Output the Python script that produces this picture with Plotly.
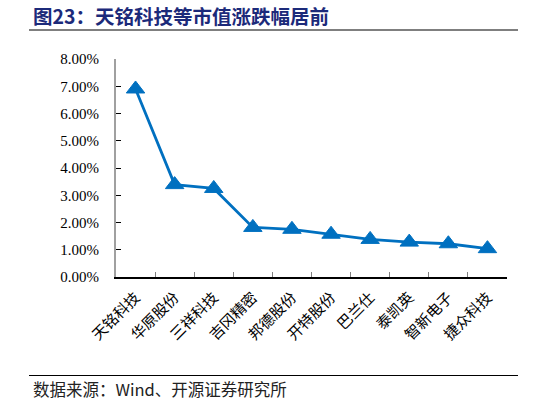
import plotly.graph_objects as go

# Chart data
companies = [
    "天铭科技", "华原股份", "三祥科技", "吉冈精密", "邦德股份",
    "开特股份", "巴兰仕", "泰凯英", "智新电子", "捷众科技",
]
change_pct = [6.90, 3.39, 3.25, 1.82, 1.75, 1.57, 1.38, 1.28, 1.22, 1.04]
y_ticks = [0, 1, 2, 3, 4, 5, 6, 7, 8]

TITLE = "图23：天铭科技等市值涨跌幅居前"
SOURCE = "数据来源：Wind、开源证券研究所"

BLUE = "#0070C0"
NAVY = "#1C2A7A"
CJK = "Noto Sans CJK SC"
SERIF = "Liberation Serif, Times New Roman, serif"

# Plot area in window pixels (546 x 405 page)
W, H = 546, 405
X0, X1, Y0, Y1 = 116, 507, 59, 277


def px_x(x):
    # pixel -> paper x
    return (x - X0) / (X1 - X0)


def px_y(y):
    # pixel -> paper y
    return (Y1 - y) / (Y1 - Y0)


fig = go.Figure()

fig.add_trace(
    go.Scatter(
        x=companies,
        y=[v / 100 for v in change_pct],
        mode="lines+markers",
        line=dict(color=BLUE, width=2.8),
        marker=dict(
            symbol="triangle-up", size=16, color=BLUE,
            line=dict(color=BLUE, width=1),
        ),
        showlegend=False,
    )
)

fig.update_layout(
    width=W,
    height=H,
    margin=dict(l=X0, r=W - X1, t=Y0, b=H - Y1),
    paper_bgcolor="white",
    plot_bgcolor="white",
    font=dict(family=SERIF, color="black"),
)

fig.update_xaxes(
    type="category",
    range=[-0.5, len(companies) - 0.5],
    showline=True,
    linecolor="black",
    linewidth=1.5,
    showgrid=False,
    ticks="inside",
    tickson="boundaries",
    ticklen=5,
    tickcolor="#808080",
    tickwidth=1,
    tickangle=-45,
    ticklabelstandoff=4,
    tickfont=dict(family=CJK, size=15, color="black"),
)

fig.update_yaxes(
    range=[0, 0.08],
    tickvals=[t / 100 for t in y_ticks],
    tickformat=".2%",
    showline=True,
    linecolor="#A0A0A0",
    linewidth=2,
    showgrid=False,
    zeroline=False,
    ticks="inside",
    ticklen=5,
    tickcolor="black",
    tickwidth=1,
    ticklabelstandoff=12,
    tickfont=dict(family=SERIF, size=15, color="black"),
)

# Title, source and the two separator lines
fig.add_annotation(
    text="<b>" + TITLE + "</b>",
    xref="paper", yref="paper",
    x=px_x(31), y=px_y(16),
    xanchor="left", yanchor="middle",
    showarrow=False,
    font=dict(family=CJK, size=19.5, color=NAVY),
)
fig.add_annotation(
    text=SOURCE,
    xref="paper", yref="paper",
    x=px_x(31), y=px_y(389),
    xanchor="left", yanchor="middle",
    showarrow=False,
    font=dict(family=CJK, size=16.5, color="#222222"),
)
for y_line in (30, 375.5):
    fig.add_shape(
        type="line",
        xref="paper", yref="paper",
        x0=px_x(29), x1=px_x(518),
        y0=px_y(y_line), y1=px_y(y_line),
        line=dict(color="black", width=1.2),
    )

# drop the default body margin so the figure sits at the window's corner
fig.write_html(
    "out.html",
    config={"displayModeBar": False},
    post_script="document.body.style.margin = '0';",
)
